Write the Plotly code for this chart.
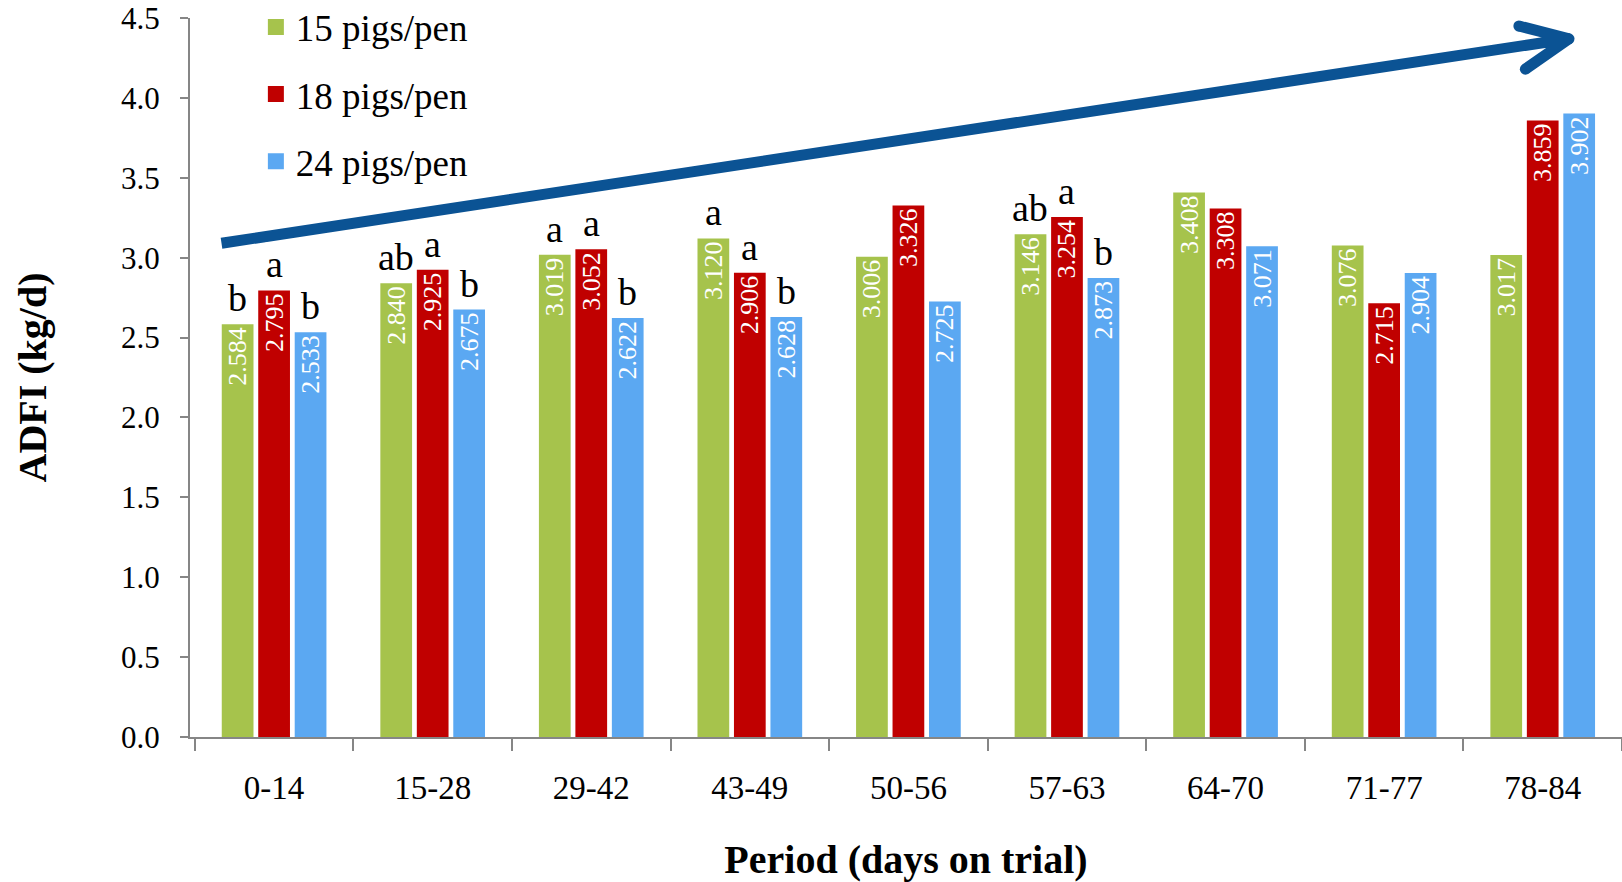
import plotly.graph_objects as go

periods = ["0-14", "15-28", "29-42", "43-49", "50-56", "57-63", "64-70", "71-77", "78-84"]
pen15 = [2.584, 2.840, 3.019, 3.120, 3.006, 3.146, 3.408, 3.076, 3.017]
pen18 = [2.795, 2.925, 3.052, 2.906, 3.326, 3.254, 3.308, 2.715, 3.859]
pen24 = [2.533, 2.675, 2.622, 2.628, 2.725, 2.873, 3.071, 2.904, 3.902]
letters15 = ["b", "ab", "a", "a", "", "ab", "", "", ""]
letters18 = ["a", "a", "a", "a", "", "a", "", "", ""]
letters24 = ["b", "b", "b", "b", "", "b", "", "", ""]
series_names = ["15 pigs/pen", "18 pigs/pen", "24 pigs/pen"]
y_ticks = [0.0, 0.5, 1.0, 1.5, 2.0, 2.5, 3.0, 3.5, 4.0, 4.5]

colors = ["#a6c34c", "#c00000", "#5ba8f2"]
arrow_color = "#0b5394"
FONT = "Liberation Serif"

W, H = 1622, 882
ML, MR, MT, MB = 190, 0, 18, 145

fig = go.Figure()
series = [pen15, pen18, pen24]
letters = [letters15, letters18, letters24]

for name, vals, col in zip(series_names, series, colors):
    fig.add_trace(go.Bar(
        x=periods, y=vals, name=name, marker=dict(color=col, line=dict(width=0)),
        texttemplate="%{y:.3f}", textposition="inside", insidetextanchor="end",
        textangle=-90, constraintext="none",
        textfont=dict(family=FONT, size=26, color="white"),
        showlegend=False, hoverinfo="x+y",
    ))

# legend entries with larger square symbols
for i, (name, col) in enumerate(zip(series_names, colors)):
    fig.add_trace(go.Scatter(
        x=[periods[0]], y=[None], mode="markers", name=name,
        marker=dict(symbol="square", size=20, color=col),
        legendgroup=f"g{i}", showlegend=True,
    ))

# bar geometry for letter offsets
bargap, bargroupgap = 0.31, 0.13
plot_w = W - ML - MR
cat_w = plot_w / len(periods)
slot = cat_w * (1 - bargap) / 3
offsets = [-slot, 0, slot]

for vals, lets, off in zip(series, letters, offsets):
    for p, v, l in zip(periods, vals, lets):
        if l:
            fig.add_annotation(
                x=p, y=v, xref="x", yref="y", text=l, showarrow=False,
                xshift=off, yshift=4, yanchor="bottom", xanchor="center",
                bgcolor="white", borderpad=0,
                font=dict(family=FONT, size=38, color="black"),
            )

# trend arrow (decoration)
arrow_start = (0.022, 3.09)
arrow_tip = (0.963, 4.37)
arm_up = (0.928, 4.45)
arm_dn = (0.9325, 4.18)
path = (f"M {arrow_start[0]},{arrow_start[1]} L {arrow_tip[0]},{arrow_tip[1]} "
        f"M {arm_up[0]},{arm_up[1]} L {arrow_tip[0]},{arrow_tip[1]} "
        f"M {arrow_tip[0]},{arrow_tip[1]} L {arm_dn[0]},{arm_dn[1]}")
fig.add_shape(type="path", path=path, xref="paper", yref="y",
              line=dict(color=arrow_color, width=11))
for pt in (arrow_tip, arm_up, arm_dn):
    fig.add_shape(type="circle", xref="paper", yref="y",
                  xsizemode="pixel", ysizemode="pixel",
                  xanchor=pt[0], yanchor=pt[1],
                  x0=-5.5, x1=5.5, y0=-5.5, y1=5.5,
                  fillcolor=arrow_color, line=dict(width=0))

fig.update_layout(
    width=W, height=H,
    margin=dict(l=ML, r=MR, t=MT, b=MB, pad=0, autoexpand=False),
    paper_bgcolor="white", plot_bgcolor="white",
    barmode="group", bargap=bargap, bargroupgap=bargroupgap,
    font=dict(family=FONT, color="black"),
    legend=dict(x=0.046, y=1.03, xanchor="left", yanchor="top",
                font=dict(family=FONT, size=37), itemsizing="trace",
                tracegroupgap=16, bgcolor="rgba(0,0,0,0)"),
    xaxis=dict(
        showline=True, linecolor="#868686", linewidth=2,
        ticks="outside", ticklen=12, tickcolor="#868686", tickwidth=2,
        tickson="boundaries", ticklabelstandoff=20, automargin=False,
        tickfont=dict(family=FONT, size=33),
        title=dict(text="<b>Period (days on trial)</b>", font=dict(family=FONT, size=40), standoff=40),
        showgrid=False, zeroline=False,
    ),
    yaxis=dict(
        range=[0, 4.5], tickvals=y_ticks, tickformat=".1f",
        showline=True, linecolor="#868686", linewidth=2,
        ticks="outside", ticklen=8, tickcolor="#868686", tickwidth=2,
        ticklabelstandoff=14, ticklabeloverflow="allow", automargin=False,
        tickfont=dict(family=FONT, size=31),
        title=dict(text="<b>ADFI (kg/d)</b>", font=dict(family=FONT, size=40), standoff=62),
        showgrid=False, zeroline=False,
    ),
)

fig.write_html("out.html", config={"displayModeBar": False},
               post_script="document.body.style.margin='0';")
